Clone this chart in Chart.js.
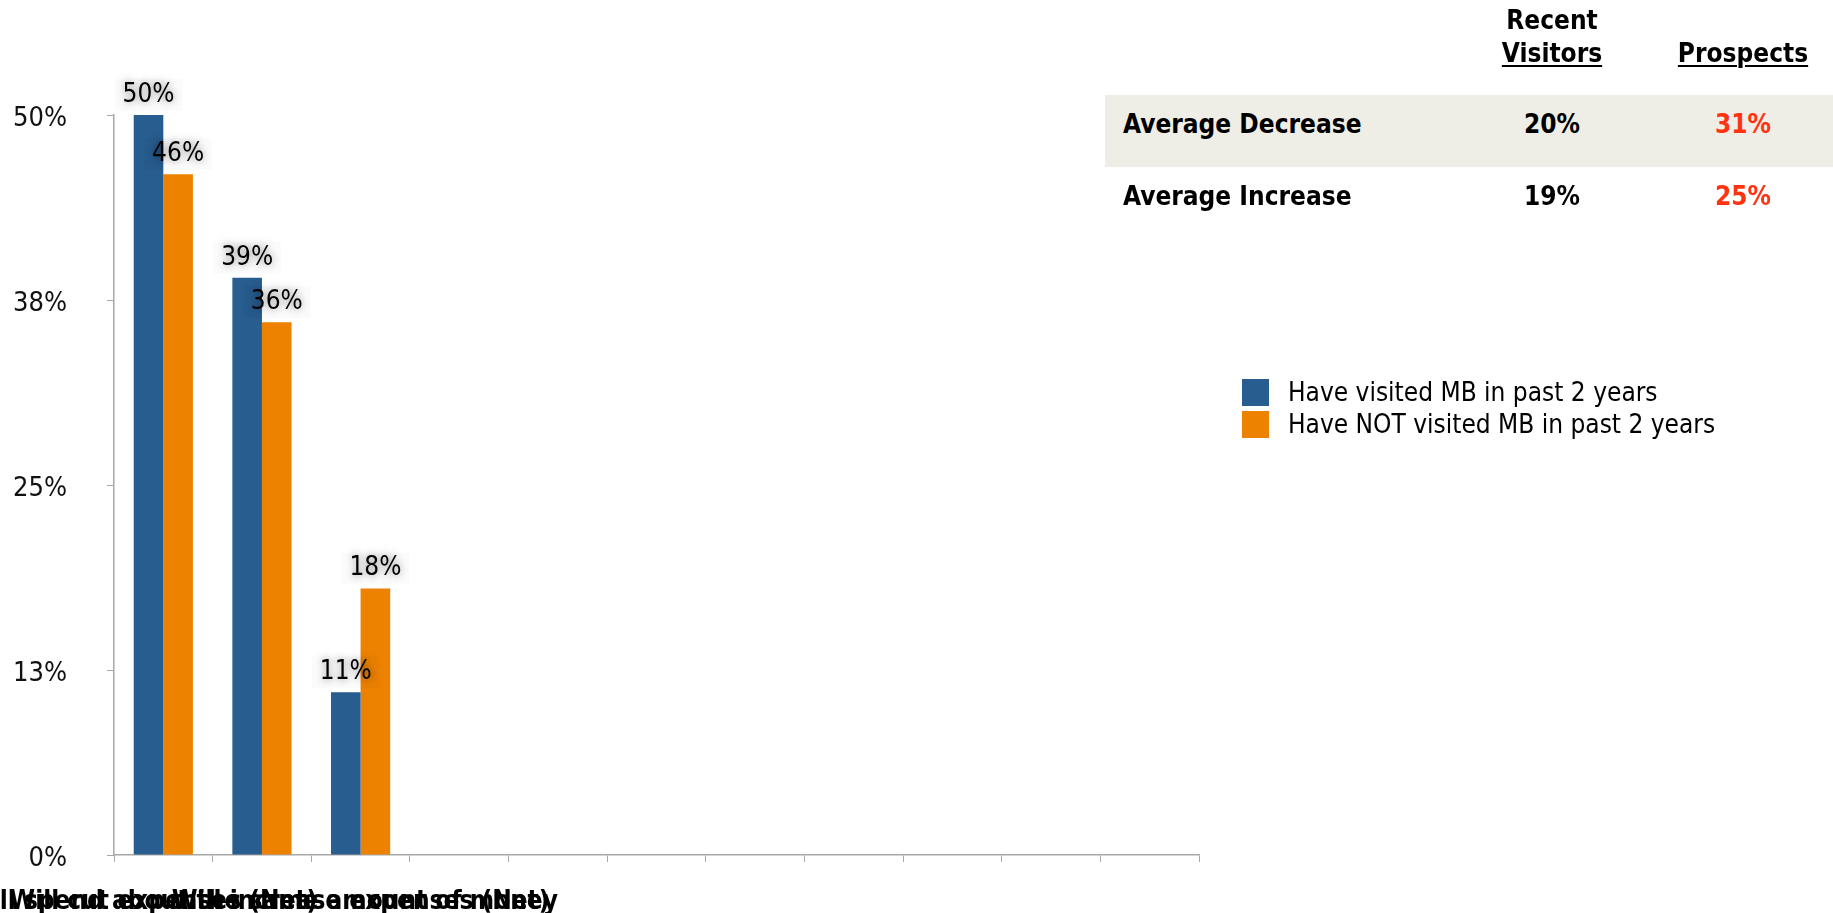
<!DOCTYPE html>
<html>
<head>
<meta charset="utf-8">
<script src="https://cdn.jsdelivr.net/npm/chart.js@4/dist/chart.umd.min.js"></script>
<style>
  html, body { margin: 0; padding: 0; background: #ffffff; }
  #wrap { position: relative; width: 1833px; height: 913px; overflow: hidden; }
  #c { position: absolute; left: 0; top: 0; }
  .t { position: absolute; font-family: "DejaVu Sans Condensed", "DejaVu Sans", sans-serif; white-space: nowrap; color: #000; }
  .b { font-weight: bold; font-size: 26px; height: 30px; line-height: 30px; }
  .ctr { transform: translateX(-50%); }
  .u { text-decoration: underline; text-underline-offset: 3px; text-decoration-thickness: 2px; }
  .red { color: #ff3311; }
  #band { position: absolute; left: 1105px; top: 95px; width: 728px; height: 72px; background: #efeee6; }
  .sw { position: absolute; width: 27px; height: 27px; }
  .lg { font-size: 26px; height: 30px; line-height: 30px; }
</style>
</head>
<body>
<div id="wrap">
  <canvas id="c" width="1833" height="913"></canvas>
  <div id="band"></div>
  <div id="tbl"></div>
  <div id="legend"></div>
</div>
<script>
// Categories along the x axis (only the first three carry answers)
const categories = [
  "Will cut expenses (Net)",
  "Will spend about the same amount of money",
  "Will increase expenses (Net)",
  "", "", "", "", "", "", "", ""
];
const seriesNames = ["Have visited MB in past 2 years", "Have NOT visited MB in past 2 years"];
const visitedValues = [50, 39, 11, null, null, null, null, null, null, null, null];
const notVisitedValues = [46, 36, 18, null, null, null, null, null, null, null, null];
const seriesColors = ["#285d8f", "#ec8200"];

// Summary table beside the chart
const tableColumns = [["Recent", "Visitors"], ["Prospects"]];
const tableRows = ["Average Decrease", "Average Increase"];
const recentVisitors = ["20%", "19%"];
const prospects = ["31%", "25%"];

const FONT = '"DejaVu Sans Condensed", "DejaVu Sans", sans-serif';

// Value labels above each bar, with a soft halo
const valueLabels = {
  id: 'valueLabels',
  afterDatasetsDraw(chart) {
    const ctx = chart.ctx;
    ctx.save();
    ctx.font = '26px ' + FONT;
    ctx.textAlign = 'center';
    ctx.textBaseline = 'middle';
    chart.data.datasets.forEach((ds, di) => {
      const meta = chart.getDatasetMeta(di);
      meta.data.forEach((bar, i) => {
        const v = ds.data[i];
        if (v === null || v === undefined) return;
        const txt = v + '%';
        const x = bar.x, y = bar.y - 20;
        const w = ctx.measureText(txt).width;
        ctx.shadowColor = 'rgba(0,0,0,0)';
        ctx.fillStyle = 'rgba(0,0,0,0.015)';
        ctx.fillRect(x - w / 2 - 8, y - 16, w + 16, 32);
        ctx.shadowColor = 'rgba(0,0,0,0.5)';
        ctx.shadowBlur = 8;
        ctx.fillStyle = '#000';
        ctx.fillText(txt, x, y);
      });
    });
    ctx.restore();
  }
};

new Chart(document.getElementById('c'), {
  type: 'bar',
  data: {
    labels: categories,
    datasets: [
      { label: seriesNames[0], data: visitedValues, backgroundColor: seriesColors[0] },
      { label: seriesNames[1], data: notVisitedValues, backgroundColor: seriesColors[1] }
    ]
  },
  options: {
    responsive: false,
    animation: false,
    events: [],
    layout: { padding: { top: 115, right: 634, bottom: 0, left: 0 } },
    datasets: { bar: { categoryPercentage: 0.6, barPercentage: 1.0 } },
    plugins: { legend: { display: false }, tooltip: { enabled: false } },
    scales: {
      x: {
        grid: { display: true, drawOnChartArea: false, drawTicks: true, tickLength: 7, color: '#a8a8a8', offset: true },
        border: { display: true, color: '#a8a8a8', width: 1.5 },
        ticks: {
          autoSkip: false, maxRotation: 0, minRotation: 0, padding: 25,
          color: '#000', font: { family: FONT, size: 26, weight: 'bold' }
        },
        afterFit(scale) { scale.height = 58; scale.paddingLeft = 0; scale.paddingRight = 0; }
      },
      y: {
        min: 0, max: 50,
        grid: { display: true, drawOnChartArea: false, drawTicks: true, tickLength: 7, color: '#a8a8a8' },
        border: { display: true, color: '#a8a8a8', width: 1.5 },
        ticks: {
          stepSize: 12.5, padding: 40, color: '#111', labelOffset: 4,
          font: { family: FONT, size: 27 },
          callback: (v) => Math.round(v) + '%'
        },
        afterFit(scale) { scale.width = 114; }
      }
    }
  },
  plugins: [valueLabels]
});

// Summary table
(function () {
  const tbl = document.getElementById('tbl');
  const colX = [1552, 1743];
  const add = (html, cls, x, y) => {
    const d = document.createElement('div');
    d.className = 't ' + cls;
    d.style.left = x + 'px';
    d.style.top = (y - 15) + 'px';
    d.textContent = html;
    tbl.appendChild(d);
  };
  add(tableColumns[0][0], 'b ctr', colX[0], 20);
  add(tableColumns[0][1], 'b ctr u', colX[0], 53);
  add(tableColumns[1][0], 'b ctr u', colX[1], 53);
  const rowY = [124, 196];
  tableRows.forEach((r, i) => {
    add(r, 'b', 1123, rowY[i]);
    add(recentVisitors[i], 'b ctr', colX[0], rowY[i]);
    add(prospects[i], 'b ctr red', colX[1], rowY[i]);
  });
})();

// Legend
(function () {
  const lg = document.getElementById('legend');
  seriesNames.forEach((name, i) => {
    const top = 379 + i * 32;
    const sw = document.createElement('div');
    sw.className = 'sw';
    sw.style.left = '1242px';
    sw.style.top = top + 'px';
    sw.style.background = seriesColors[i];
    lg.appendChild(sw);
    const t = document.createElement('div');
    t.className = 't lg';
    t.style.left = '1288px';
    t.style.top = (top + 13 - 15) + 'px';
    t.textContent = name;
    lg.appendChild(t);
  });
})();
</script>
</body>
</html>
